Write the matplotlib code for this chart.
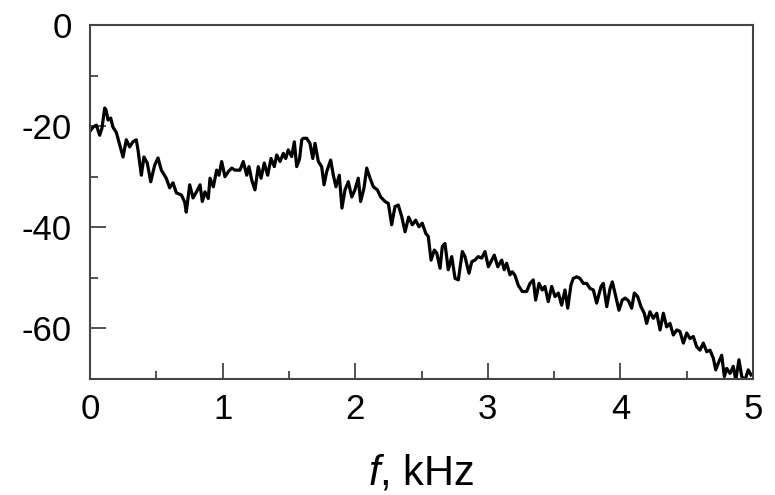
import matplotlib
matplotlib.use('Agg')
import matplotlib.pyplot as plt
from matplotlib.ticker import MultipleLocator

plt.rcParams['font.family'] = ['Liberation Sans', 'DejaVu Sans']
plt.rcParams['mathtext.fontset'] = 'custom'
plt.rcParams['mathtext.rm'] = 'Liberation Sans'
plt.rcParams['mathtext.it'] = 'Liberation Sans:italic'

# spectrum (frequency in kHz, level in dB)
freq_khz = [
    0.000, 0.023, 0.048, 0.073, 0.090, 0.111, 0.121, 0.136, 0.156, 0.173,
    0.198, 0.224, 0.249, 0.274, 0.299, 0.324, 0.349, 0.362, 0.387, 0.407,
    0.432, 0.458, 0.488, 0.513, 0.538, 0.575, 0.601, 0.626, 0.651, 0.689,
    0.714, 0.726, 0.752, 0.777, 0.803, 0.830, 0.847, 0.867, 0.892, 0.905,
    0.930, 0.955, 0.973, 0.993, 1.018, 1.043, 1.069, 1.094, 1.131, 1.156,
    1.182, 1.199, 1.219, 1.244, 1.269, 1.290, 1.314, 1.340, 1.365, 1.390,
    1.408, 1.433, 1.458, 1.476, 1.495, 1.521, 1.541, 1.559, 1.580, 1.597,
    1.609, 1.634, 1.659, 1.680, 1.697, 1.722, 1.747, 1.765, 1.785, 1.815,
    1.835, 1.855, 1.880, 1.900, 1.923, 1.948, 1.974, 1.998, 2.023, 2.041,
    2.066, 2.087, 2.112, 2.137, 2.167, 2.192, 2.225, 2.250, 2.275, 2.300,
    2.325, 2.351, 2.376, 2.403, 2.431, 2.456, 2.481, 2.506, 2.532, 2.551,
    2.572, 2.597, 2.615, 2.640, 2.657, 2.677, 2.702, 2.728, 2.753, 2.778,
    2.808, 2.828, 2.858, 2.879, 2.903, 2.928, 2.954, 2.979, 3.004, 3.029,
    3.049, 3.075, 3.105, 3.124, 3.142, 3.167, 3.185, 3.205, 3.230, 3.260,
    3.293, 3.318, 3.343, 3.361, 3.386, 3.411, 3.431, 3.456, 3.482, 3.507,
    3.532, 3.557, 3.582, 3.603, 3.627, 3.645, 3.670, 3.695, 3.720, 3.746,
    3.771, 3.796, 3.821, 3.854, 3.871, 3.897, 3.922, 3.939, 3.959, 3.989,
    4.014, 4.035, 4.060, 4.085, 4.105, 4.130, 4.155, 4.180, 4.198, 4.223,
    4.248, 4.274, 4.299, 4.324, 4.349, 4.374, 4.399, 4.425, 4.449, 4.475,
    4.500, 4.525, 4.550, 4.575, 4.600, 4.625, 4.651, 4.676, 4.701, 4.719,
    4.738, 4.764, 4.784, 4.802, 4.827, 4.851, 4.870, 4.894, 4.915, 4.940,
    4.964, 4.985,
]
level_db = [
    -21.0, -20.2, -19.8, -21.8, -20.4, -16.4, -16.8, -18.8, -18.4, -20.2,
    -21.2, -23.7, -26.1, -22.7, -24.1, -23.1, -22.7, -24.7, -29.7, -26.1,
    -27.3, -31.0, -27.7, -26.3, -28.7, -30.3, -32.2, -31.2, -33.2, -33.6,
    -35.0, -37.0, -31.6, -34.2, -33.0, -31.6, -34.9, -33.0, -34.3, -30.3,
    -32.0, -28.7, -29.7, -27.0, -30.0, -29.0, -28.3, -28.7, -28.7, -27.0,
    -29.7, -28.0, -30.6, -32.6, -28.0, -30.3, -27.3, -29.7, -26.4, -28.0,
    -25.7, -27.0, -25.4, -26.4, -24.7, -26.0, -23.1, -28.0, -26.5, -22.7,
    -22.4, -22.4, -23.4, -26.4, -23.4, -27.0, -28.0, -31.6, -29.0, -26.7,
    -29.7, -32.0, -29.7, -36.2, -32.6, -31.0, -34.0, -32.6, -30.3, -34.9,
    -32.3, -28.3, -30.3, -32.0, -32.6, -34.0, -34.9, -35.3, -39.5, -35.9,
    -35.6, -37.9, -40.9, -38.0, -39.5, -38.6, -39.9, -39.2, -41.2, -41.8,
    -46.5, -44.5, -45.1, -48.1, -43.8, -43.2, -48.4, -45.8, -50.1, -50.4,
    -44.8, -45.8, -49.1, -46.8, -46.5, -45.8, -46.1, -44.8, -47.8, -46.5,
    -45.5, -47.8, -46.5, -48.4, -47.1, -49.4, -48.8, -49.5, -51.5, -52.7,
    -52.7, -51.1, -50.4, -54.4, -51.1, -52.4, -51.7, -54.7, -51.7, -53.7,
    -53.0, -55.4, -52.4, -56.0, -51.4, -50.1, -49.8, -50.1, -51.1, -51.1,
    -52.1, -52.4, -55.0, -51.7, -51.1, -55.7, -52.1, -50.8, -53.0, -56.4,
    -54.4, -54.0, -54.5, -56.0, -53.0, -53.7, -55.7, -57.0, -59.0, -56.7,
    -58.0, -57.0, -60.3, -57.0, -59.7, -59.0, -61.3, -60.3, -60.6, -62.9,
    -60.9, -62.0, -61.6, -63.6, -64.3, -62.9, -64.6, -64.3, -65.9, -68.2,
    -66.9, -65.3, -69.5, -67.9, -68.9, -67.5, -70.2, -66.2, -69.5, -70.2,
    -68.2, -69.2,
]

x_ticks = [0, 1, 2, 3, 4, 5]
y_ticks = [-60, -40, -20, 0]
y_tick_labels = ['-60', '-40', '-20', '0']

fig = plt.figure(figsize=(7.75, 4.95), dpi=100)
ax = fig.add_axes([90 / 775, 1 - 379 / 495, 663 / 775, 354 / 495])

ax.plot(freq_khz, level_db, color='black', linewidth=2.3)

ax.set_xlim(0, 5)
ax.set_ylim(-70, 0)
ax.set_xticks(x_ticks)
ax.set_yticks(y_ticks)
ax.set_yticklabels(y_tick_labels)
ax.xaxis.set_minor_locator(MultipleLocator(0.5))
ax.yaxis.set_minor_locator(MultipleLocator(10))

ax.tick_params(which='both', direction='in', top=False, right=False,
               width=1.3, color='#444444', labelsize=25)
ax.tick_params(axis='y', pad=13)
ax.tick_params(axis='x', pad=10)
ax.tick_params(which='major', length=11.5)
ax.tick_params(which='minor', length=6)

for sp in ax.spines.values():
    sp.set_linewidth(1.5)
    sp.set_color('#444444')

ax.set_xlabel('$f$, kHz', fontsize=30, labelpad=20)

fig.savefig('out.png', dpi=100)
